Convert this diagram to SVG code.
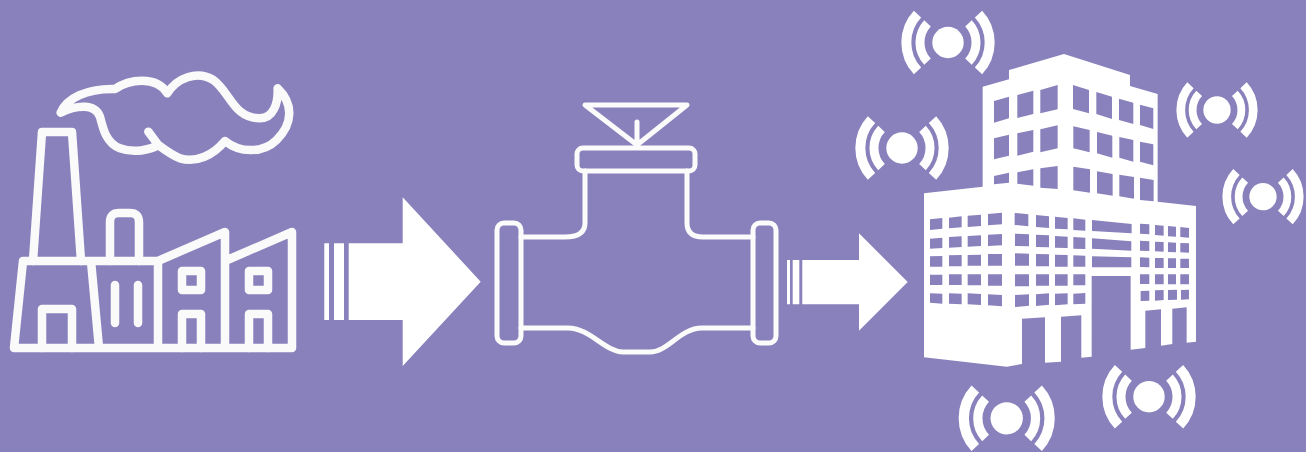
<svg xmlns="http://www.w3.org/2000/svg" width="1306" height="452" viewBox="0 0 1306 452">
<style>
.ln{fill:none;stroke:#fafafa;stroke-linecap:round;stroke-linejoin:round}
.f{stroke-width:8.5}
.c{stroke-width:25.5}
.v{stroke-width:5;stroke:#fbfbfb}
.w{fill:#fff}
.h{fill:#8881bc}
.arc{fill:none;stroke:#fff;stroke-linecap:butt}
</style>
<defs>
<filter id="soft" x="-5%" y="-5%" width="110%" height="110%"><feGaussianBlur stdDeviation="0.45"/></filter>
<filter id="softer" x="-5%" y="-5%" width="110%" height="110%"><feGaussianBlur stdDeviation="0.7"/></filter>
<g id="sig">
<circle class="w" r="15.7"/>
<path class="arc" stroke-width="9" d="M20.5,-19.1A28,28 0 0 1 20.5,19.1M-20.5,-19.1A28,28 0 0 0 -20.5,19.1"/>
<path class="arc" stroke-width="10" d="M30.5,-28.4A41.7,41.7 0 0 1 30.5,28.4M-30.5,-28.4A41.7,41.7 0 0 0 -30.5,28.4"/>
</g>
</defs>
<rect width="1306" height="452" fill="#8881bc"/>
<g id="factory" filter="url(#soft)">
<path class="ln f" d="M14,348H292V232L225,261M14,348L23,261H158L225,232V348M158,261V348M91,261L99,348"/>
<path class="ln f" d="M33,261L42,132H72L81,261"/>
<path class="ln f" d="M110,261V222Q110,213 119,213H130Q139,213 139,222V261"/>
<path class="ln f" d="M42,348V309H72V348"/>
<path class="ln f" d="M115,285V323M138,285V323"/>
<rect class="ln f" x="182" y="271" width="19" height="19"/>
<rect class="ln f" x="249" y="271" width="19" height="19"/>
<path class="ln f" d="M182,348V314H201V348M249,348V314H268V348"/>
<path class="ln c" transform="translate(0,60) scale(.3333)" d="M182,158C200,115 260,85 345,87C385,58 470,45 502,100C530,55 590,30 640,60C690,95 700,175 780,175C820,175 835,130 833,85C880,130 880,190 830,240C790,280 720,280 675,243C640,285 590,310 540,295C515,285 495,270 475,255C450,270 400,280 360,265C320,250 310,210 300,170C285,130 230,135 182,158ZM445,215L475,255"/>
</g>
<g id="valve" filter="url(#softer)">
<path class="ln v" d="M585,105H687L637,145ZM637,122V145"/>
<rect class="ln v" x="577" y="148" width="118" height="23" rx="6"/>
<path class="ln v" d="M585,171V223Q585,237 565,237H521M687,171V223Q687,237 703,237H753"/>
<path class="ln v" d="M521,328H568C590,328 605,352 623,352H650C668,352 680,328 702,328H753"/>
<rect class="ln v" x="497" y="223" width="24" height="120" rx="7"/>
<rect class="ln v" x="753" y="223" width="23" height="120" rx="7"/>
</g>
<g id="building" transform="translate(910,40) scale(.3333)">
<path class="w" d="M218,440V140L297,118V90L462,42L660,105V138L743,162V485L858,498V905L830,908V802L787,806V912L753,917V808L706,812V924L662,929V708H545V950L514,953V826L453,830V965L405,968V832L336,836V972L290,980L42,952V460Z"/>
<path class="h" d="M252,183L297,170V235L252,248ZM322,165L370,152V222L322,234ZM391,150L443,135V208L391,220ZM489,135L537,150V220L489,207ZM559,156L606,170V237L559,222ZM627,176L670,188V252L627,240ZM690,194L730,205V267L690,255Z
M252,295L297,284V347L252,358ZM322,280L370,270V335L322,347ZM391,268L443,256V325L391,337ZM490,259L539,270V337L490,325ZM561,276L607,287V353L561,340ZM628,291L670,300V365L628,353ZM690,305L730,313V376L690,365Z
M252,408L297,398V428L252,433ZM322,397L370,388V437L322,431ZM391,385L443,378V447L391,443ZM490,380L540,388V458L490,451ZM561,394L608,402V467L561,460ZM628,404L672,411V476L628,469ZM690,413L731,420V484L690,480Z"/>
<path class="h" d="M60,538L97,534V566L60,570ZM117,533L155,529V562L117,565ZM173,527L213,524V558L173,561ZM234,522L276,518V553L234,556ZM314,519L355,523V559L314,555ZM378,525L417,529V564L378,561ZM435,530L473,534V568L435,566ZM490,535L526,539V572L490,570Z
M60,596L97,593V624L60,626ZM117,591L155,589V621L117,623ZM173,588L213,586V618L173,620ZM234,584L276,582V616L234,618ZM315,581L357,583V619L315,618ZM378,584L417,586V622L378,621ZM435,588L473,590V624L435,623ZM490,591L526,593V627L490,626Z
M60,649L97,648V680L60,680ZM117,646L155,645V679L117,679ZM173,645L213,644V677L173,677ZM234,642L276,642V677L234,677ZM315,640L357,641V677L315,677ZM378,642L417,643V679L378,679ZM435,644L473,645V680L435,680ZM490,646L526,647V680L490,680Z
M60,704H97V735H60ZM117,703H155V735H117ZM173,703H213V736H173ZM234,703H276V737H234ZM315,703H357V739H315ZM378,703H417V737H378ZM435,703H473V737H435ZM490,703H526V736H490Z
M60,760L97,761V791L60,788ZM117,760L155,761V793L117,791ZM173,760L213,762V795L173,793ZM234,763L276,765V799L234,796ZM315,765L357,763V797L315,801ZM378,763L417,760V794L378,798ZM435,761L473,760V793L435,796ZM490,761L526,759V791L490,793Z
M546,540L665,552V580L546,573ZM546,595L664,604V632L546,626ZM546,649L664,652V682H546Z
M690,551L718,553V583L690,581ZM735,555L761,557V587L735,585ZM774,558L798,560V590L774,589ZM811,561L837,564V593L811,591Z
M690,602L718,604V633L690,632ZM735,605L761,606V635L735,634ZM774,607L798,608V637L774,636ZM811,609L837,610V638L811,637Z
M690,652L718,653V682L690,681ZM735,654L761,654V684L735,684ZM774,655L798,655V684L774,684ZM811,656L837,656V684L811,684Z
M690,703H718V732H690ZM735,703H761V733H735ZM774,703H798V733H774ZM811,703H837V733H811Z
M692,753L718,752V782L692,783ZM735,751L761,750V780L735,782ZM774,750L801,749V779L774,780ZM813,750L837,749V778L813,779Z"/>
</g>
<g id="signal-1"><use href="#sig" transform="translate(948,42.500)"/></g>
<g id="signal-2"><use href="#sig" transform="translate(902,148)"/></g>
<g id="signal-3"><use href="#sig" transform="translate(1217,110) scale(.87)"/></g>
<g id="signal-4"><use href="#sig" transform="translate(1263,196.700) scale(.87)"/></g>
<g id="signal-5"><use href="#sig" transform="translate(1006.700,418.300) scale(1.03)"/></g>
<g id="signal-6"><use href="#sig" transform="translate(1149,396.700)"/></g>
<g id="connectors">
<path class="w" d="M324.300,243.300H329V320H324.300ZM334,243.300H344V320H334ZM348.700,243.300H402.700V197.300L480.700,281.700L402.700,366V320H348.700Z"/>
<path class="w" d="M787,260H790V304.300H787ZM792.700,260H799.300V304.300H792.700ZM802.300,260H859V233.300L907.700,282L859,330.700V304.300H802.300Z"/>
</g>
</svg>
